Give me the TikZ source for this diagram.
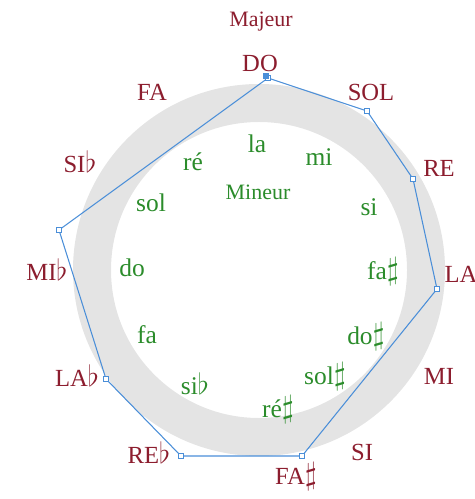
\documentclass[tikz,border=0pt]{standalone}
\usepackage{fontspec}
\setmainfont{Liberation Serif}
\usetikzlibrary{positioning}
\definecolor{majred}{HTML}{8C1D2E}
\definecolor{mingreen}{HTML}{2B8C2B}
\definecolor{lineblue}{HTML}{4A8ED8}
\definecolor{ringgray}{HTML}{E4E4E4}
\newcommand{\shp}{\scalebox{1.25}{$\sharp$}}
\newcommand{\flt}{\scalebox{1.15}{$\flat$}}

\begin{document}
\begin{tikzpicture}[x=0.02cm,y=-0.02cm,
    major/.style={text=majred,font=\fontsize{14}{16}\selectfont},
    minor/.style={text=mingreen,font=\fontsize{14.5}{16}\selectfont},
    title/.style={font=\fontsize{12.5}{14}\selectfont},
    vmark/.style={draw=lineblue,fill=white,line width=0.5pt,minimum size=3pt,inner sep=0pt}]
  \useasboundingbox (0,0) rectangle (474,499);
  % gray ring
  \fill[ringgray,even odd rule] (259,270) circle[radius=186] (259,270) circle[radius=148];

  % major keys
  \node[title,text=majred] (majeur) at (261,22) {Majeur};
  \node[major] (DO) at (260,63) {DO};
  \node[major] (SOL) at (371,92) {SOL};
  \node[major] (RE) at (439,168) {RE};
  \node[major] (LA) at (461,274) {LA};
  \node[major] (MI) at (439,376) {MI};
  \node[major] (SI) at (362,452) {SI};
  \node[major] (FAd) at (296,477) {FA\shp};
  \node[major] (REb) at (149,453) {RE\flt};
  \node[major] (LAb) at (77,376) {LA\flt};
  \node[major] (MIb) at (47,270) {MI\flt};
  \node[major] (SIb) at (80,162) {SI\flt};
  \node[major] (FA) at (152,92) {FA};

  % minor keys
  \node[title,text=mingreen] (mineur) at (258,192) {Mineur};
  \node[minor] (la) at (257,144) {la};
  \node[minor] (mi) at (319,157) {mi};
  \node[minor] (si) at (369,207) {si};
  \node[minor] (fad) at (383,272) {fa\shp};
  \node[minor] (dod) at (366,337) {do\shp};
  \node[minor] (sold) at (325,377) {sol\shp};
  \node[minor] (red) at (278,410) {ré\shp};
  \node[minor] (sib) at (195,384) {si\flt};
  \node[minor] (fa) at (147,335) {fa};
  \node[minor] (do) at (132,268) {do};
  \node[minor] (sol) at (151,203) {sol};
  \node[minor] (re) at (193,162) {ré};

  % polygon through the keys
  \coordinate (vDO) at (268,78);
  \coordinate (vSOL) at (367,111);
  \coordinate (vRE) at (413,179);
  \coordinate (vLA) at (437,289);
  \coordinate (vFAd) at (302,456);
  \coordinate (vREb) at (181,456);
  \coordinate (vLAb) at (106,379);
  \coordinate (vMIb) at (59,230);
  \draw[lineblue,line width=0.6pt] (vDO) -- (vSOL) -- (vRE) -- (vLA) -- (vFAd)
    -- (vREb) -- (vLAb) -- (vMIb) -- cycle;
  \foreach \v in {vDO,vSOL,vRE,vLA,vFAd,vREb,vLAb,vMIb}
    \node[vmark] at (\v) {};
  \node[vmark,fill=lineblue] (vsel) at (266,76) {};
\end{tikzpicture}
\end{document}
